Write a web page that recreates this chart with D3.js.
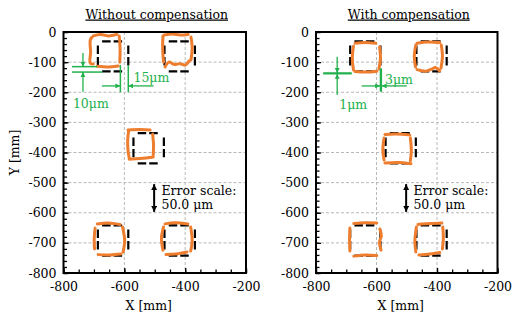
<!DOCTYPE html>
<html><head><meta charset="utf-8">
<script src="https://cdn.jsdelivr.net/npm/d3@7"></script>
<style>
html,body{margin:0;padding:0;background:#fff;}
svg text{font-family:"DejaVu Serif",serif;}
</style></head>
<body><svg id="c" width="522" height="322"></svg>
<script>
// ---------- data ----------
const titles = ["Without compensation", "With compensation"];
const xTicks = [-800, -600, -400, -200];
const yTicks = [0, -100, -200, -300, -400, -500, -600, -700, -800];
const xMinor = d3.range(-800, -199, 50);
const yMinor = d3.range(0, -801, -20);
const xGrid = [-600, -400];
const yGrid = [-100, -200, -300, -400, -500, -600, -700];

// nominal 100 mm squares (left x, top y)
const nominalLeft = [-687, -468, -570, -687, -468];
const nominalTop  = [-31, -31, -336, -642, -642];
const nominalSize = 100;

// measured edges (magnified error), per square: [left, top, right, bottom]
const measuredWithout = [
  [[[-706,-17],[-712,-27],[-711,-66],[-712,-103],[-702,-106]],
   [[-702,-13],[-679,-8],[-653,-13],[-624,-8]],
   [[-617,-13],[-614,-53],[-615,-100]],
   [[-689,-114],[-653,-116],[-620,-113]]],
  [[[-473,-13],[-474,-53],[-471,-100]],
   [[-469,-10],[-443,-7],[-416,-10],[-390,-8]],
   [[-381,-17],[-377,-53],[-381,-93]],
   [[-466,-116],[-453,-100],[-436,-108],[-417,-105],[-400,-110],[-387,-96]]],
  [[[-586,-329],[-589,-359],[-588,-392],[-584,-418]],
   [[-588,-325],[-548,-324],[-515,-325]],
   [[-507,-339],[-504,-375],[-505,-408]],
   [[-584,-422],[-548,-420],[-505,-415]]],
  [[[-696,-651],[-699,-684],[-698,-720]],
   [[-689,-637],[-653,-634],[-614,-639]],
   [[-606,-647],[-599,-691],[-604,-730]],
   [[-686,-739],[-647,-740],[-611,-737]]],
  [[[-471,-647],[-478,-684],[-473,-724]],
   [[-466,-637],[-433,-633],[-391,-637]],
   [[-382,-647],[-377,-691],[-382,-727]],
   [[-463,-739],[-430,-737],[-394,-730]]]
];
const measuredWith = [
  [[[-676,-47],[-680,-86],[-676,-126]],
   [[-671,-37],[-638,-35],[-602,-37]],
   [[-590,-50],[-587,-86],[-592,-123]],
   [[-671,-131],[-635,-133],[-599,-130]]],
  [[[-470,-43],[-475,-80],[-471,-116]],
   [[-466,-37],[-430,-33],[-391,-35]],
   [[-386,-43],[-382,-80],[-387,-120]],
   [[-466,-125],[-437,-130],[-417,-123],[-405,-118],[-391,-130]]],
  [[[-575,-352],[-579,-392],[-575,-425]],
   [[-572,-340],[-533,-339],[-490,-342]],
   [[-488,-352],[-485,-392],[-488,-428]],
   [[-572,-435],[-529,-433],[-486,-437]]],
  [[[-688,-651],[-689,-691],[-688,-727]],
   [[-675,-636],[-638,-633],[-599,-634]],
   [[-589,-654],[-584,-677],[-590,-697],[-585,-724]],
   [[-675,-744],[-635,-740],[-599,-742]]],
  [[[-468,-647],[-473,-691],[-470,-730]],
   [[-463,-639],[-424,-636],[-384,-634]],
   [[-381,-647],[-379,-684],[-382,-720]],
   [[-460,-740],[-424,-737],[-391,-732]]]
];

// green dimension annotations
const dimLinesWithout = [[[-772,-115],[-690,-115]], [[-772,-133],[-672,-133]],
                         [[-613,-110],[-613,-200]], [[-587,-110],[-587,-200]]];
const dimArrowsWithout = [[[-736,-70],[-736,-115]], [[-736,-198],[-736,-133]],
                          [[-674,-179],[-613,-179]], [[-504,-179],[-587,-179]]];
const dimTextWithout = [["10μm", -769, -239], ["15μm", -570, -150]];
const dimLinesWith = [[[-776,-136],[-682,-136]], [[-776,-138.5],[-682,-138.5]],
                      [[-587,-121],[-587,-198]], [[-584,-121],[-584,-198]]];
const dimArrowsWith = [[[-730,-82],[-730,-136]], [[-730,-209],[-730,-139]],
                       [[-649,-179],[-588,-179]], [[-500,-179],[-583,-179]]];
const dimTextWith = [["1μm", -723, -242], ["3μm", -572, -157]];

// error scale
const scaleArrow = [[-502,-505],[-502,-597]];
const scaleText = ["Error scale:", "50.0 μm"];
const scaleTextPos = [-478, -527, -574];

// ---------- drawing ----------
const FS = 12.5;
const svg = d3.select("#c");
const defs = svg.append("defs");
function marker(id, color, w, h){
  defs.append("marker").attr("id", id).attr("viewBox", "0 0 10 10")
    .attr("refX", 10).attr("refY", 5).attr("markerUnits", "userSpaceOnUse")
    .attr("markerWidth", w).attr("markerHeight", h)
    .attr("orient", "auto-start-reverse")
    .append("path").attr("d", "M0,0L10,5L0,10Z").attr("fill", color);
}
const green = "#22b14c", orange = "#ee7d2e";
marker("ag", green, 5, 5);
marker("ak", "#000", 6, 6);

const panels = [
  {x0: 63.5, x1: 246, title: titles[0], measured: measuredWithout,
   dimLines: dimLinesWithout, dimArrows: dimArrowsWithout, dimText: dimTextWithout, ylabel: true},
  {x0: 316, x1: 497.5, title: titles[1], measured: measuredWith,
   dimLines: dimLinesWith, dimArrows: dimArrowsWith, dimText: dimTextWith, ylabel: false}
];
const plotTop = 32, plotBottom = 273;

panels.forEach(p => {
  const x = d3.scaleLinear().domain([-800, -200]).range([p.x0, p.x1]);
  const y = d3.scaleLinear().domain([0, -800]).range([plotTop, plotBottom]);
  const g = svg.append("g");

  // grid
  g.selectAll(".gx").data(xGrid).join("line")
    .attr("x1", d => x(d)).attr("x2", d => x(d)).attr("y1", plotTop).attr("y2", plotBottom)
    .attr("stroke", "#b8b8b8").attr("stroke-width", 1).attr("stroke-dasharray", "3,2");
  g.selectAll(".gy").data(yGrid).join("line")
    .attr("y1", d => y(d)).attr("y2", d => y(d)).attr("x1", p.x0).attr("x2", p.x1)
    .attr("stroke", "#b8b8b8").attr("stroke-width", 1).attr("stroke-dasharray", "3,2");

  // axes
  const ax = g.append("g").attr("transform", `translate(0,${plotBottom})`)
    .call(d3.axisBottom(x).tickValues(xTicks).tickSizeInner(-5).tickSizeOuter(0).tickPadding(9));
  const axm = g.append("g").attr("transform", `translate(0,${plotBottom})`)
    .call(d3.axisBottom(x).tickValues(xMinor).tickSizeInner(-3.5).tickSizeOuter(0).tickFormat(""));
  const ay = g.append("g").attr("transform", `translate(${p.x0},0)`)
    .call(d3.axisLeft(y).tickValues(yTicks).tickSizeInner(-5).tickSizeOuter(0).tickPadding(7));
  const aym = g.append("g").attr("transform", `translate(${p.x0},0)`)
    .call(d3.axisLeft(y).tickValues(yMinor).tickSizeInner(-3.5).tickSizeOuter(0).tickFormat(""));
  [ax, axm, ay, aym].forEach(a => {
    a.select(".domain").remove();
    a.selectAll("line").attr("stroke", "#000").attr("stroke-width", 1.3);
    a.selectAll("text").attr("font-family", "DejaVu Serif, serif").attr("font-size", FS).attr("fill", "#000");
  });
  ay.selectAll("text").text(d => d === 0 ? "0" : "-" + Math.abs(d));
  ax.selectAll("text").text(d => "-" + Math.abs(d));

  // nominal squares (black dashed)
  nominalLeft.forEach((lx, i) => {
    const ty = nominalTop[i], s = nominalSize;
    const sides = [
      [[lx + 14, ty], [lx + 80, ty]],
      [[lx + 14, ty - s], [lx + 80, ty - s]],
      [[lx, ty - 14], [lx, ty - 80]],
      [[lx + s, ty - 14], [lx + s, ty - 80]]
    ];
    sides.forEach(sd => {
      g.append("line").attr("x1", x(sd[0][0])).attr("y1", y(sd[0][1]))
        .attr("x2", x(sd[1][0])).attr("y2", y(sd[1][1]))
        .attr("stroke", "#000").attr("stroke-width", 2.2).attr("stroke-dasharray", "8.5,3");
    });
  });

  // measured (orange)
  const line = d3.line().x(d => x(d[0])).y(d => y(d[1])).curve(d3.curveCatmullRom);
  p.measured.forEach(sq => sq.forEach(side => {
    g.append("path").attr("d", line(side)).attr("fill", "none")
      .attr("stroke", orange).attr("stroke-width", 3).attr("stroke-linecap", "round").attr("stroke-linejoin", "round");
  }));

  // frame
  g.append("rect").attr("x", p.x0).attr("y", plotTop).attr("width", p.x1 - p.x0).attr("height", plotBottom - plotTop)
    .attr("fill", "none").attr("stroke", "#000").attr("stroke-width", 2);

  // green dimensions
  p.dimLines.forEach(l => g.append("line").attr("x1", x(l[0][0])).attr("y1", y(l[0][1]))
    .attr("x2", x(l[1][0])).attr("y2", y(l[1][1])).attr("stroke", green).attr("stroke-width", 1.5));
  p.dimArrows.forEach(l => g.append("line").attr("x1", x(l[0][0])).attr("y1", y(l[0][1]))
    .attr("x2", x(l[1][0])).attr("y2", y(l[1][1])).attr("stroke", green).attr("stroke-width", 1.3)
    .attr("marker-end", "url(#ag)"));
  p.dimText.forEach(t => g.append("text").attr("x", x(t[1])).attr("y", y(t[2])).attr("dy", "0.35em")
    .attr("font-size", FS).attr("fill", green).text(t[0]));

  // error scale
  g.append("line").attr("x1", x(scaleArrow[0][0])).attr("y1", y(scaleArrow[0][1]))
    .attr("x2", x(scaleArrow[1][0])).attr("y2", y(scaleArrow[1][1]))
    .attr("stroke", "#000").attr("stroke-width", 2)
    .attr("marker-start", "url(#ak)").attr("marker-end", "url(#ak)");
  const st = g.append("text").attr("font-size", FS).attr("fill", "#000");
  scaleText.forEach((t, i) => st.append("tspan").attr("x", x(scaleTextPos[0]))
    .attr("y", y(scaleTextPos[i + 1])).attr("dy", "0.35em").text(t));

  // titles and labels
  g.append("text").attr("x", (p.x0 + p.x1) / 2 + 2).attr("y", 18.5).attr("text-anchor", "middle")
    .attr("font-size", FS).attr("text-decoration", "underline").attr("fill", "#000").text(p.title);
  g.append("text").attr("x", (p.x0 + p.x1) / 2 - 6).attr("y", 310).attr("text-anchor", "middle")
    .attr("font-size", FS).attr("fill", "#000").text("X [mm]");
  if (p.ylabel) {
    g.append("text").attr("transform", `translate(19,${(plotTop + plotBottom) / 2}) rotate(-90)`)
      .attr("text-anchor", "middle").attr("font-size", FS).attr("fill", "#000").text("Y [mm]");
  }
});
</script></body></html>
